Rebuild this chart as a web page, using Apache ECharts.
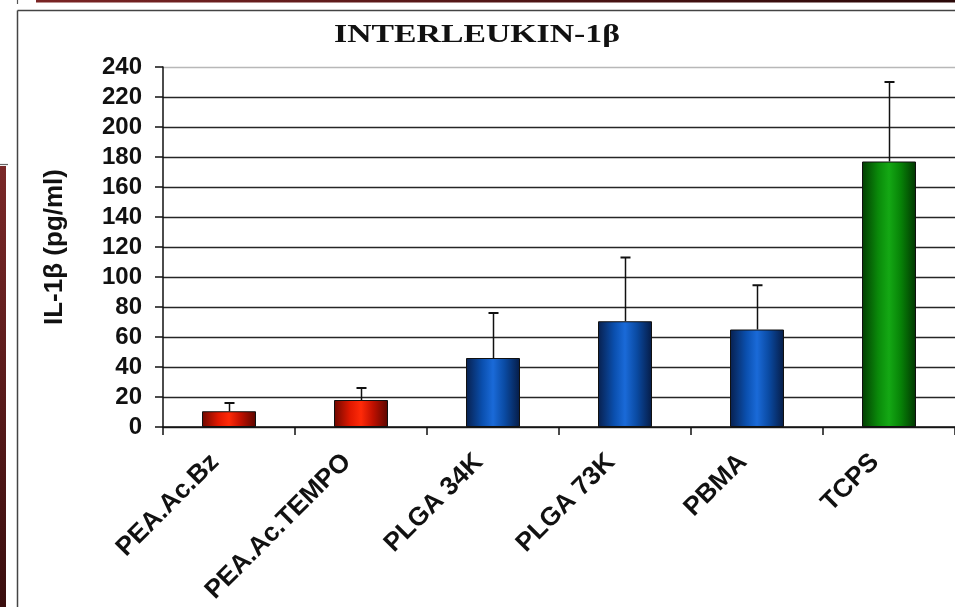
<!DOCTYPE html>
<html>
<head>
<meta charset="utf-8">
<script src="https://cdn.jsdelivr.net/npm/echarts@6/dist/echarts.min.js"></script>
<style>
  html, body { margin: 0; padding: 0; background: #fff; }
  #chart { width: 955px; height: 607px; }
</style>
</head>
<body>
<div id="chart"></div>
<script>
// IL-1β release per material (mean and upper error)
const categories = ['PEA.Ac.Bz', 'PEA.Ac.TEMPO', 'PLGA 34K', 'PLGA 73K', 'PBMA', 'TCPS'];
const means = [10.5, 18, 46, 70.5, 65, 177];
const errors = [5.5, 8, 30, 42.5, 29.5, 53];
const groups = ['red', 'red', 'blue', 'blue', 'blue', 'green'];
const yTicks = [0, 20, 40, 60, 80, 100, 120, 140, 160, 180, 200, 220, 240];

const palettes = {
  red:   ['#6e0800', '#e01800', '#ff2a08', '#c01000', '#5a0600'],
  blue:  ['#08204e', '#0a4fae', '#1a6ad8', '#0a4aa2', '#061c46'],
  green: ['#033e03', '#0a8a0a', '#14a814', '#078207', '#023602']
};

function barFill(name) {
  const c = palettes[name];
  return new echarts.graphic.LinearGradient(0, 0, 1, 0, [
    { offset: 0, color: c[0] },
    { offset: 0.3, color: c[1] },
    { offset: 0.5, color: c[2] },
    { offset: 0.72, color: c[3] },
    { offset: 1, color: c[4] }
  ]);
}

const chart = echarts.init(document.getElementById('chart'), null, { renderer: 'canvas' });

const splitColors = yTicks.map((v, i) => (i === yTicks.length - 1 ? '#b8b8b8' : '#262626'));
const sans = '"Liberation Sans", Arial, sans-serif';

chart.setOption({
  animation: false,
  backgroundColor: '#fff',
  graphic: [
    // page frame pieces around the figure
    { type: 'rect', shape: { x: 36, y: 0, width: 919, height: 2.5 },
      style: { fill: new echarts.graphic.LinearGradient(0, 0, 1, 0, [
        { offset: 0, color: '#7a2424' }, { offset: 1, color: '#2a0808' }]) } },
    { type: 'line', shape: { x1: 17.5, y1: 0, x2: 17.5, y2: 4 }, style: { stroke: '#555', lineWidth: 1.2 } },
    { type: 'line', shape: { x1: 17.5, y1: 10.5, x2: 955, y2: 10.5 }, style: { stroke: '#444', lineWidth: 1.5 } },
    { type: 'line', shape: { x1: 17.5, y1: 10.5, x2: 17.5, y2: 607 }, style: { stroke: '#444', lineWidth: 1.5 } },
    { type: 'line', shape: { x1: 0, y1: 164.5, x2: 8, y2: 164.5 }, style: { stroke: '#666', lineWidth: 1.2 } },
    { type: 'rect', shape: { x: 0, y: 166, width: 6, height: 441 },
      style: { fill: new echarts.graphic.LinearGradient(0, 0, 0, 1, [
        { offset: 0, color: '#7a2828' }, { offset: 1, color: '#3a0e0e' }]) } },
    // chart title, set in a wide bold serif
    { type: 'text', x: 477, y: 36, scaleX: 1.5, scaleY: 1.08,
      style: { text: 'INTERLEUKIN-1β', fontSize: 22.5, fontWeight: 'bold',
               fontFamily: '"Liberation Serif", "Times New Roman", serif',
               fill: '#111', align: 'center', verticalAlign: 'middle' } }
  ],
  grid: { left: 163, right: -4, top: 67, bottom: 180, containLabel: false },
  xAxis: {
    type: 'category',
    data: categories,
    axisLine: { lineStyle: { color: '#111', width: 1.5 } },
    axisTick: { show: true, length: 8, inside: false, lineStyle: { color: '#111', width: 1.5 } },
    axisLabel: {
      rotate: 45, margin: 17, interval: 0, padding: [0, 20, 0, 0],
      fontFamily: sans, fontWeight: 'bold', fontSize: 26, color: '#111'
    },
    splitLine: { show: false }
  },
  yAxis: {
    type: 'value',
    min: 0, max: 240, interval: 20,
    name: 'IL-1β (pg/ml)',
    nameLocation: 'middle',
    nameGap: 95,
    nameTextStyle: { fontFamily: sans, fontWeight: 'bold', fontSize: 26, color: '#111' },
    axisLine: { show: true, lineStyle: { color: '#111', width: 1.5 } },
    axisTick: { show: true, length: 8, lineStyle: { color: '#111', width: 1.5 } },
    axisLabel: {
      margin: 21,
      fontFamily: sans, fontWeight: 'bold', fontSize: 24, color: '#111'
    },
    splitLine: { show: true, lineStyle: { color: splitColors, width: 1.4 } }
  },
  series: [
    {
      type: 'bar',
      barWidth: 54,
      data: means.map((v, i) => ({
        value: v,
        itemStyle: { color: barFill(groups[i]), borderColor: '#111', borderWidth: 1 }
      })),
      z: 2
    },
    {
      type: 'custom',
      z: 3,
      data: means.map((v, i) => [i, v, v + errors[i]]),
      renderItem: function (params, api) {
        const base = api.coord([api.value(0), api.value(1)]);
        const top = api.coord([api.value(0), api.value(2)]);
        const x = Math.round(base[0]) + 0.5;
        const cap = 5;
        return {
          type: 'group',
          children: [
            { type: 'line', shape: { x1: x, y1: base[1], x2: x, y2: top[1] },
              style: { stroke: '#111', lineWidth: 1.5 } },
            { type: 'line', shape: { x1: x - cap, y1: top[1], x2: x + cap, y2: top[1] },
              style: { stroke: '#111', lineWidth: 2 } }
          ]
        };
      }
    }
  ]
});
</script>
</body>
</html>
